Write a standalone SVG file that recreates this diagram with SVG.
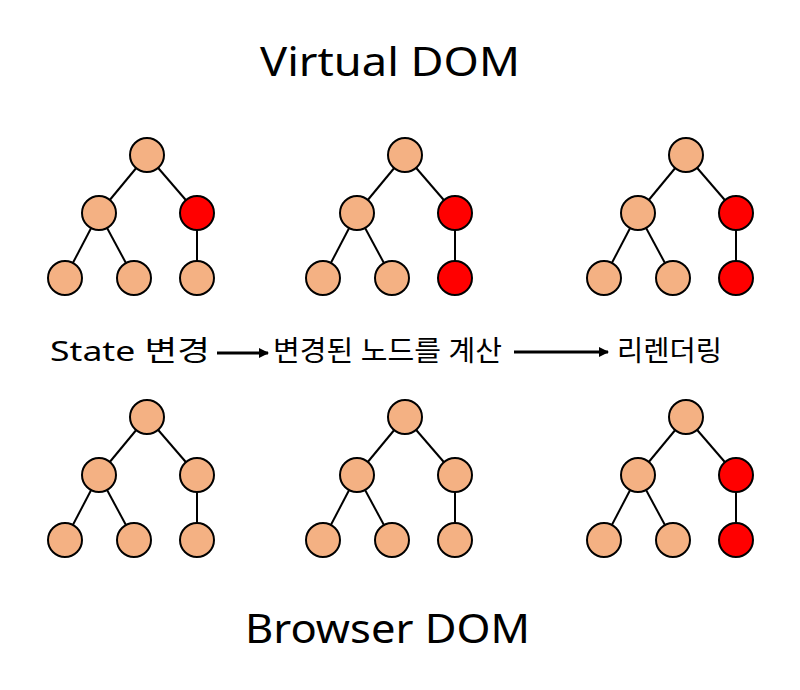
<svg xmlns="http://www.w3.org/2000/svg" width="800" height="690" viewBox="0 0 800 690">
<style>
.n{fill:#f4b183;stroke:#000;stroke-width:2}
.r{fill:#ff0000;stroke:#000;stroke-width:2}
.e{stroke:#000;stroke-width:2;fill:none}
.t{font-family:"Noto Sans","Noto Sans CJK KR",sans-serif;fill:#000}
.a{stroke:#000;stroke-width:3;fill:none}
</style>
<defs>
<marker id="ah" markerWidth="10" markerHeight="10" refX="9" refY="5" orient="auto" markerUnits="userSpaceOnUse">
<path d="M0,0 L10,5 L0,10 Z" fill="#000"/>
</marker>
<g id="edges">
<line class="e" x1="147" y1="155" x2="99" y2="213"/>
<line class="e" x1="147" y1="155" x2="197" y2="213"/>
<line class="e" x1="99" y1="213" x2="65" y2="278"/>
<line class="e" x1="99" y1="213" x2="134" y2="278"/>
<line class="e" x1="197" y1="213" x2="197" y2="278"/>
</g>
</defs>
<rect width="800" height="690" fill="#fff"/>
<g id="connectors">
<use href="#edges"/>
<use href="#edges" transform="translate(258,0)"/>
<use href="#edges" transform="translate(539,0)"/>
<use href="#edges" transform="translate(0,262)"/>
<use href="#edges" transform="translate(258,262)"/>
<use href="#edges" transform="translate(539,262)"/>
<line class="a" x1="217" y1="353" x2="268" y2="353" marker-end="url(#ah)"/>
<line class="a" x1="514" y1="352" x2="608" y2="352" marker-end="url(#ah)"/>
</g>
<g id="tree-v1">
<circle class="n" cx="147" cy="155" r="17"/>
<circle class="n" cx="99" cy="213" r="17"/>
<circle class="r" cx="197" cy="213" r="17"/>
<circle class="n" cx="65" cy="278" r="17"/>
<circle class="n" cx="134" cy="278" r="17"/>
<circle class="n" cx="197" cy="278" r="17"/>
</g>
<g id="tree-v2">
<circle class="n" cx="405" cy="155" r="17"/>
<circle class="n" cx="357" cy="213" r="17"/>
<circle class="r" cx="455" cy="213" r="17"/>
<circle class="n" cx="323" cy="278" r="17"/>
<circle class="n" cx="392" cy="278" r="17"/>
<circle class="r" cx="455" cy="278" r="17"/>
</g>
<g id="tree-v3">
<circle class="n" cx="686" cy="155" r="17"/>
<circle class="n" cx="638" cy="213" r="17"/>
<circle class="r" cx="736" cy="213" r="17"/>
<circle class="n" cx="604" cy="278" r="17"/>
<circle class="n" cx="673" cy="278" r="17"/>
<circle class="r" cx="736" cy="278" r="17"/>
</g>
<g id="tree-b1">
<circle class="n" cx="147" cy="417" r="17"/>
<circle class="n" cx="99" cy="475" r="17"/>
<circle class="n" cx="197" cy="475" r="17"/>
<circle class="n" cx="65" cy="540" r="17"/>
<circle class="n" cx="134" cy="540" r="17"/>
<circle class="n" cx="197" cy="540" r="17"/>
</g>
<g id="tree-b2">
<circle class="n" cx="405" cy="417" r="17"/>
<circle class="n" cx="357" cy="475" r="17"/>
<circle class="n" cx="455" cy="475" r="17"/>
<circle class="n" cx="323" cy="540" r="17"/>
<circle class="n" cx="392" cy="540" r="17"/>
<circle class="n" cx="455" cy="540" r="17"/>
</g>
<g id="tree-b3">
<circle class="n" cx="686" cy="417" r="17"/>
<circle class="n" cx="638" cy="475" r="17"/>
<circle class="r" cx="736" cy="475" r="17"/>
<circle class="n" cx="604" cy="540" r="17"/>
<circle class="n" cx="673" cy="540" r="17"/>
<circle class="r" cx="736" cy="540" r="17"/>
</g>
<g id="labels">
<text class="t" x="260" y="76" font-size="40" textLength="260" lengthAdjust="spacingAndGlyphs">Virtual DOM</text>
<text class="t" x="245" y="643" font-size="40" textLength="285" lengthAdjust="spacingAndGlyphs">Browser DOM</text>
<text class="t" x="50" y="361" font-size="28" textLength="160" lengthAdjust="spacingAndGlyphs">State 변경</text>
<text class="t" x="273" y="361" font-size="28" textLength="229" lengthAdjust="spacingAndGlyphs">변경된 노드를 계산</text>
<text class="t" x="617" y="361" font-size="28" textLength="105" lengthAdjust="spacingAndGlyphs">리렌더링</text>
</g>
</svg>
